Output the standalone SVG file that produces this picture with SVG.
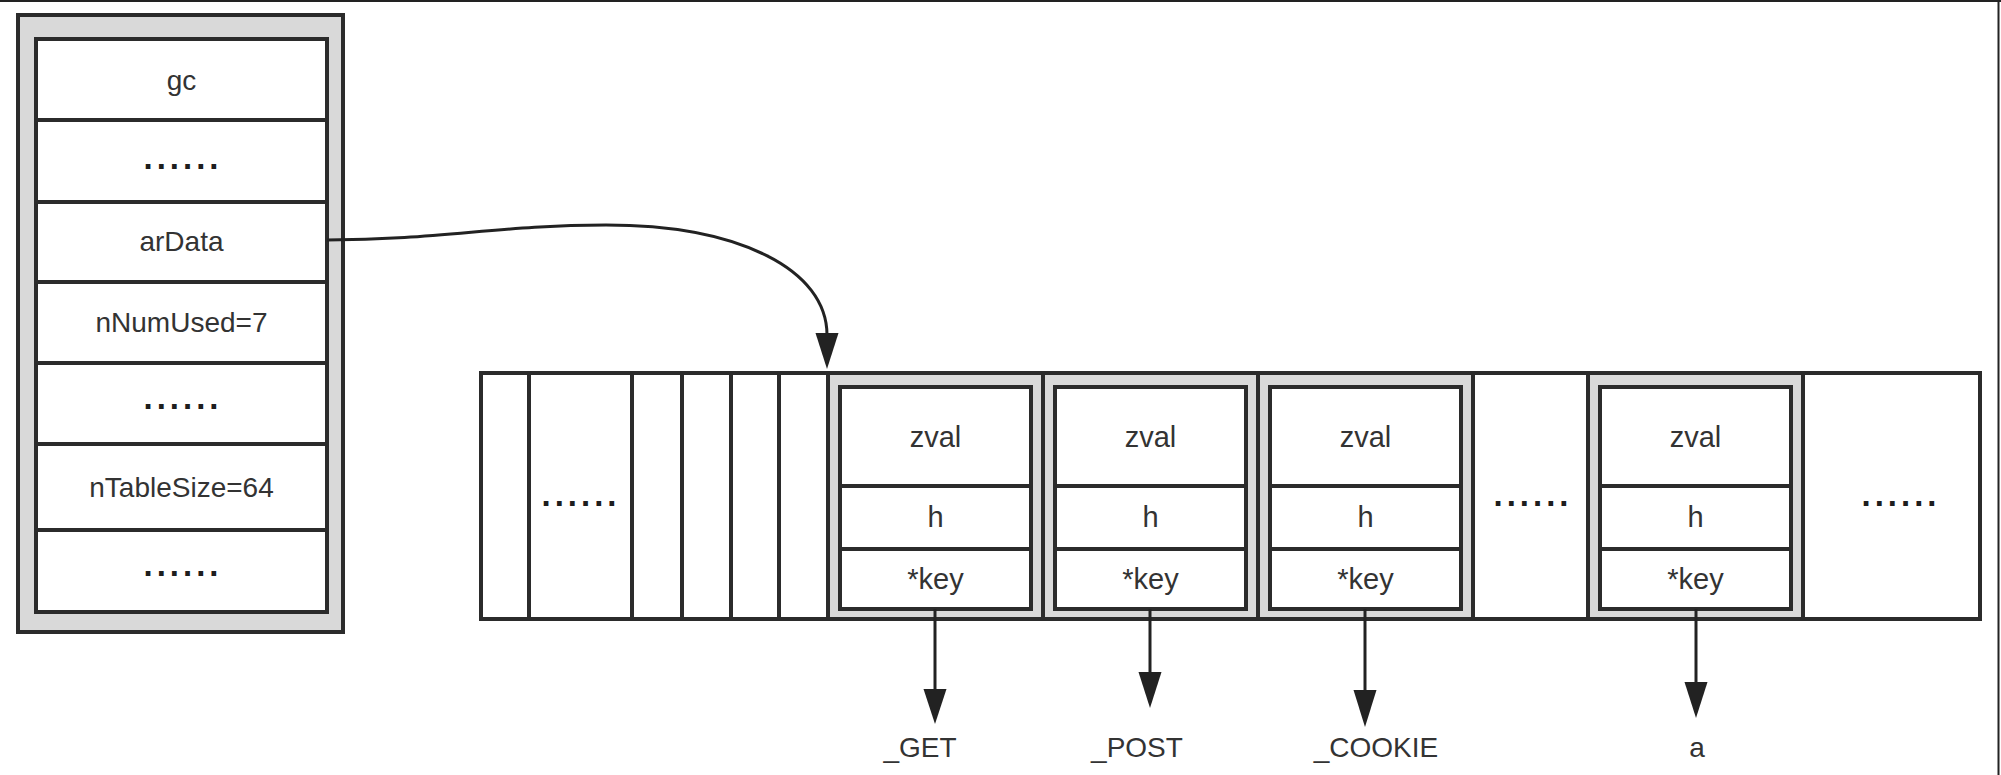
<svg xmlns="http://www.w3.org/2000/svg" width="2001" height="775" viewBox="0 0 2001 775">
<style>
.box{fill:#fff;stroke:#2b2b2b;stroke-width:4}
.outer{fill:#d9d9d9;stroke:#2b2b2b;stroke-width:4}
.gray{fill:#d9d9d9;stroke:none}
.ln{stroke:#2b2b2b;stroke-width:4;fill:none}
.t{font-family:"Liberation Sans",Arial,sans-serif;font-size:28px;fill:#333;text-anchor:middle}
.tb{font-size:29px}
.dots{font-family:"Liberation Sans",Arial,sans-serif;font-size:33px;font-weight:bold;fill:#1e1e1e;text-anchor:middle;letter-spacing:4px}
.conn{stroke:#222;stroke-width:3;fill:none}
.head{fill:#222}
</style>
<g id="frame">
<line x1="0" y1="1" x2="2001" y2="1" stroke="#222" stroke-width="2"/>
<line x1="1998.5" y1="0" x2="1998.5" y2="775" stroke="#222" stroke-width="2"/>
</g>
<g id="hashtable">
<rect class="outer" x="18" y="15" width="325" height="617"/>
<rect class="box" x="36" y="39" width="291" height="573"/>
<line class="ln" x1="36" y1="120" x2="327" y2="120"/>
<line class="ln" x1="36" y1="202" x2="327" y2="202"/>
<line class="ln" x1="36" y1="282" x2="327" y2="282"/>
<line class="ln" x1="36" y1="363" x2="327" y2="363"/>
<line class="ln" x1="36" y1="444" x2="327" y2="444"/>
<line class="ln" x1="36" y1="530" x2="327" y2="530"/>
<text class="t" x="181.5" y="90">gc</text>
<text class="dots" x="183" y="169">......</text>
<text class="t" x="181.5" y="251">arData</text>
<text class="t" x="181.5" y="332">nNumUsed=7</text>
<text class="dots" x="183" y="409">......</text>
<text class="t" x="181.5" y="497">nTableSize=64</text>
<text class="dots" x="183" y="576">......</text>
</g>
<g id="ardata">
<rect class="gray" x="828" y="373" width="215" height="246"/>
<rect class="gray" x="1043" y="373" width="215" height="246"/>
<rect class="gray" x="1258" y="373" width="215" height="246"/>
<rect class="gray" x="1588" y="373" width="215" height="246"/>
<rect x="481" y="373" width="1499" height="246" fill="none" stroke="#2b2b2b" stroke-width="4"/>
<line class="ln" x1="529" y1="373" x2="529" y2="619"/>
<line class="ln" x1="632" y1="373" x2="632" y2="619"/>
<line class="ln" x1="682" y1="373" x2="682" y2="619"/>
<line class="ln" x1="731" y1="373" x2="731" y2="619"/>
<line class="ln" x1="779" y1="373" x2="779" y2="619"/>
<line class="ln" x1="828" y1="373" x2="828" y2="619"/>
<line class="ln" x1="1043" y1="373" x2="1043" y2="619"/>
<line class="ln" x1="1258" y1="373" x2="1258" y2="619"/>
<line class="ln" x1="1473" y1="373" x2="1473" y2="619"/>
<line class="ln" x1="1588" y1="373" x2="1588" y2="619"/>
<line class="ln" x1="1803" y1="373" x2="1803" y2="619"/>
<text class="dots" x="581" y="506">......</text>
<text class="dots" x="1533" y="506">......</text>
<text class="dots" x="1901" y="506">......</text>
</g>
<g id="bucket1">
<rect class="box" x="840" y="387" width="191" height="222"/>
<line class="ln" x1="840" y1="486" x2="1031" y2="486"/>
<line class="ln" x1="840" y1="549" x2="1031" y2="549"/>
<text class="t tb" x="935.5" y="447">zval</text>
<text class="t tb" x="935.5" y="527">h</text>
<text class="t tb" x="935.5" y="589">*key</text>
</g>
<g id="bucket2">
<rect class="box" x="1055" y="387" width="191" height="222"/>
<line class="ln" x1="1055" y1="486" x2="1246" y2="486"/>
<line class="ln" x1="1055" y1="549" x2="1246" y2="549"/>
<text class="t tb" x="1150.5" y="447">zval</text>
<text class="t tb" x="1150.5" y="527">h</text>
<text class="t tb" x="1150.5" y="589">*key</text>
</g>
<g id="bucket3">
<rect class="box" x="1270" y="387" width="191" height="222"/>
<line class="ln" x1="1270" y1="486" x2="1461" y2="486"/>
<line class="ln" x1="1270" y1="549" x2="1461" y2="549"/>
<text class="t tb" x="1365.5" y="447">zval</text>
<text class="t tb" x="1365.5" y="527">h</text>
<text class="t tb" x="1365.5" y="589">*key</text>
</g>
<g id="bucket4">
<rect class="box" x="1600" y="387" width="191" height="222"/>
<line class="ln" x1="1600" y1="486" x2="1791" y2="486"/>
<line class="ln" x1="1600" y1="549" x2="1791" y2="549"/>
<text class="t tb" x="1695.5" y="447">zval</text>
<text class="t tb" x="1695.5" y="527">h</text>
<text class="t tb" x="1695.5" y="589">*key</text>
</g>
<g id="labels">
<text class="t" x="920" y="757">_GET</text>
<text class="t" x="1137" y="757">_POST</text>
<text class="t" x="1376" y="757">_COOKIE</text>
<text class="t" x="1697" y="757">a</text>
</g>
<g id="connectors">
<path class="conn" d="M 327 240 C 440 240, 500 225, 606 225 C 740 225, 827 270, 827 335"/>
<polygon class="head" points="815.5,333 838.5,333 827,369"/>
<line class="conn" x1="935" y1="609" x2="935" y2="691"/>
<polygon class="head" points="923.5,689 946.5,689 935,724"/>
<line class="conn" x1="1150" y1="609" x2="1150" y2="674"/>
<polygon class="head" points="1138.5,672 1161.5,672 1150,708"/>
<line class="conn" x1="1365" y1="609" x2="1365" y2="692"/>
<polygon class="head" points="1353.5,690 1376.5,690 1365,727"/>
<line class="conn" x1="1696" y1="609" x2="1696" y2="684"/>
<polygon class="head" points="1684.5,682 1707.5,682 1696,718"/>
</g>
</svg>
